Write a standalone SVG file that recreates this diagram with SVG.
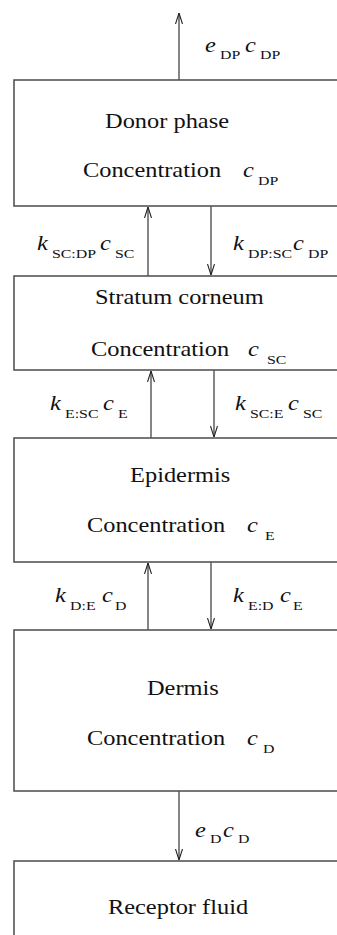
<svg xmlns="http://www.w3.org/2000/svg" width="337" height="935" viewBox="0 0 337 935">
<style>
.box{fill:#fff;stroke:#555;stroke-width:1.6}
.con{stroke:#222;stroke-width:1.1;fill:none}
.t{font-family:'Liberation Serif','DejaVu Serif',serif;font-size:20px;fill:#111}
.i{font-style:italic}
.s{font-size:13px}
</style>
<defs>
<marker id="ah" viewBox="0 0 11 8" refX="11" refY="4" markerWidth="11" markerHeight="8" markerUnits="userSpaceOnUse" orient="auto">
<path d="M0,0.5 L11,4 L0,7.5" fill="none" stroke="#222" stroke-width="1.1"/>
</marker>
</defs>
<g id="connectors">
<line class="con" x1="179" y1="80" x2="179" y2="13" marker-end="url(#ah)"/>
<line class="con" x1="148" y1="276" x2="148" y2="207" marker-end="url(#ah)"/>
<line class="con" x1="211" y1="206" x2="211" y2="275" marker-end="url(#ah)"/>
<line class="con" x1="151" y1="438" x2="151" y2="371" marker-end="url(#ah)"/>
<line class="con" x1="214" y1="370" x2="214" y2="437" marker-end="url(#ah)"/>
<line class="con" x1="148" y1="630" x2="148" y2="563" marker-end="url(#ah)"/>
<line class="con" x1="211" y1="562" x2="211" y2="629" marker-end="url(#ah)"/>
<line class="con" x1="179" y1="791" x2="179" y2="860" marker-end="url(#ah)"/>
</g>
<g id="donor"><rect class="box" x="14" y="80" width="340" height="126"/></g>
<g id="sc"><rect class="box" x="14" y="276" width="340" height="94"/></g>
<g id="epi"><rect class="box" x="14" y="438" width="340" height="124"/></g>
<g id="derm"><rect class="box" x="14" y="630" width="340" height="161"/></g>
<g id="receptor"><rect class="box" x="14" y="861" width="340" height="100"/></g>
<g id="labels" transform="scale(1.22 1)">
<text class="t"><tspan class="i" x="168" y="52">e</tspan><tspan class="s" x="180.3" y="59">DP</tspan><tspan class="i" x="200.8" y="52">c</tspan><tspan class="s" x="213.1" y="59">DP</tspan></text>
<text class="t" x="86.1" y="128">Donor phase</text>
<text class="t"><tspan x="68" y="177">Concentration</tspan><tspan class="i" x="199.2" y="177">c</tspan><tspan class="s" x="211.5" y="185">DP</tspan></text>
<text class="t"><tspan class="i" x="30.3" y="250">k</tspan><tspan class="s" x="42.6" y="258">SC:DP</tspan><tspan class="i" x="82" y="250">c</tspan><tspan class="s" x="94.3" y="258">SC</tspan></text>
<text class="t"><tspan class="i" x="191" y="250">k</tspan><tspan class="s" x="203.3" y="258">DP:SC</tspan><tspan class="i" x="240.2" y="250">c</tspan><tspan class="s" x="252.5" y="258">DP</tspan></text>
<text class="t" x="77.9" y="304">Stratum corneum</text>
<text class="t"><tspan x="74.6" y="356">Concentration</tspan><tspan class="i" x="203.3" y="356">c</tspan><tspan class="s" x="218.9" y="364">SC</tspan></text>
<text class="t"><tspan class="i" x="41" y="410">k</tspan><tspan class="s" x="53.3" y="418">E:SC</tspan><tspan class="i" x="84.4" y="410">c</tspan><tspan class="s" x="96.7" y="418">E</tspan></text>
<text class="t"><tspan class="i" x="192.6" y="410">k</tspan><tspan class="s" x="204.9" y="418">SC:E</tspan><tspan class="i" x="236.1" y="410">c</tspan><tspan class="s" x="248.4" y="418">SC</tspan></text>
<text class="t" x="106.6" y="482">Epidermis</text>
<text class="t"><tspan x="71.3" y="532">Concentration</tspan><tspan class="i" x="202.5" y="532">c</tspan><tspan class="s" x="217.2" y="540">E</tspan></text>
<text class="t"><tspan class="i" x="45.1" y="602">k</tspan><tspan class="s" x="57.4" y="610">D:E</tspan><tspan class="i" x="83.6" y="602">c</tspan><tspan class="s" x="94.3" y="610">D</tspan></text>
<text class="t"><tspan class="i" x="191" y="602">k</tspan><tspan class="s" x="203.3" y="610">E:D</tspan><tspan class="i" x="229.5" y="602">c</tspan><tspan class="s" x="240.2" y="610">E</tspan></text>
<text class="t" x="120.5" y="695">Dermis</text>
<text class="t"><tspan x="71.3" y="745">Concentration</tspan><tspan class="i" x="202.5" y="745">c</tspan><tspan class="s" x="215.6" y="753">D</tspan></text>
<text class="t"><tspan class="i" x="159.8" y="837">e</tspan><tspan class="s" x="172.1" y="843">D</tspan><tspan class="i" x="182.8" y="837">c</tspan><tspan class="s" x="195.1" y="843">D</tspan></text>
<text class="t" x="88.5" y="914">Receptor fluid</text>
</g>
</svg>
